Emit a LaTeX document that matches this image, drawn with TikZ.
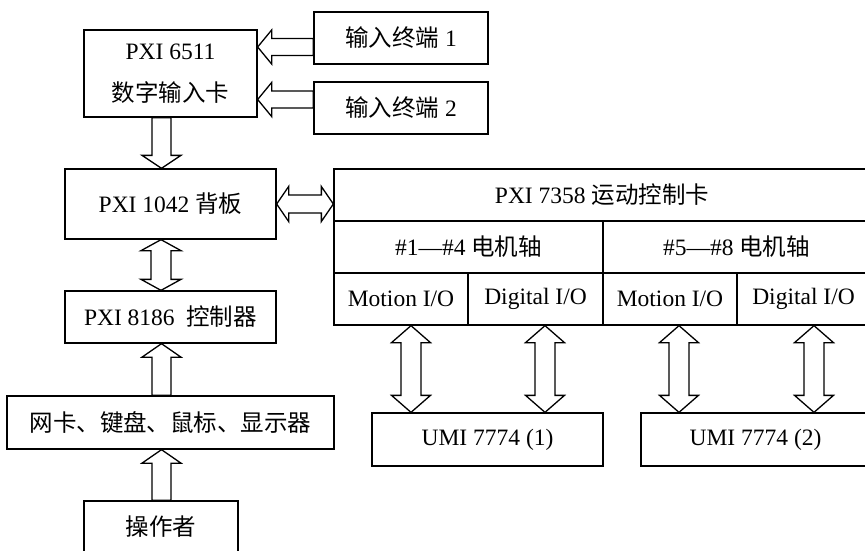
\documentclass[tikz,border=0pt]{standalone}
\usepackage{fontspec}
\setmainfont{Liberation Serif}
\newfontfamily\cjk{Noto Sans CJK SC}
\usetikzlibrary{calc}
\tikzset{
  box/.style={draw, line width=1.3pt, inner sep=0pt, minimum height=52pt,
    font=\fontsize{23.5}{28}\selectfont, align=center},
  fat/.style={draw, fill=white, line width=1.3pt, line join=miter},
}
% single hollow arrow: #1 tail, #2 tip, #3 half shaft, #4 half head, #5 head length
\newcommand\fatone[5]{%
  \coordinate (fH) at ($(#2)!#5!(#1)$);
  \draw[fat] ($(#1)!#3!90:(#2)$) -- ($(fH)!#3!90:(#2)$) -- ($(fH)!#4!90:(#2)$)
    -- (#2) -- ($(fH)!#4!-90:(#2)$) -- ($(fH)!#3!-90:(#2)$)
    -- ($(#1)!#3!-90:(#2)$) -- cycle;}
% double hollow arrow between tips #1 and #2
\newcommand\fattwo[5]{%
  \coordinate (fA) at ($(#1)!#5!(#2)$);
  \coordinate (fB) at ($(#2)!#5!(#1)$);
  \draw[fat] (#1) -- ($(fA)!#4!90:(#2)$) -- ($(fA)!#3!90:(#2)$)
    -- ($(fB)!#3!-90:(#1)$) -- ($(fB)!#4!-90:(#1)$) -- (#2)
    -- ($(fB)!#4!90:(#1)$) -- ($(fB)!#3!90:(#1)$)
    -- ($(fA)!#3!-90:(#2)$) -- ($(fA)!#4!-90:(#2)$) -- cycle;}
\begin{document}
\begin{tikzpicture}[x=1pt,y=-1pt]
\useasboundingbox (0,0) rectangle (865,550);
\fill[white] (0,0) rectangle (865,550);
\clip (0,0) rectangle (865,550);

% left column
\node[box, minimum width=173pt, minimum height=87pt,
      font=\fontsize{23.5}{42}\selectfont] (n6511) at (170.5,73.5)
      {PXI 6511\\{\cjk 数字输入卡}};
\node[box, minimum width=174pt] (in1) at (401,38) {{\cjk 输入终端} 1};
\node[box, minimum width=174pt] (in2) at (401,108) {{\cjk 输入终端} 2};
\node[box, minimum width=211pt, minimum height=70pt] (n1042) at (170.5,204)
      {PXI 1042 {\cjk 背板}};
\node[box, minimum width=211pt] (n8186) at (170.5,317)
      {PXI 8186\ \ {\cjk 控制器}};
\node[box, minimum width=327pt, minimum height=53pt] (net) at (170.5,422.5)
      {{\cjk 网卡、键盘、鼠标、显示器}};
\node[box, minimum width=154pt] (op) at (161,527) {{\cjk 操作者}};

% PXI 7358 card
\node[box, minimum width=536pt] (title) at (602,195) {PXI 7358 {\cjk 运动控制卡}};
\node[box, minimum width=269pt] (ax1) at (468.5,247) {\#1—\#4 {\cjk 电机轴}};
\node[box, minimum width=267pt] (ax2) at (736.5,247) {\#5—\#8 {\cjk 电机轴}};
\node[box, minimum width=134pt] (m1) at (401,299) {Motion I/O};
\node[box, minimum width=135pt] (d1) at (535.5,299) {Digital I/O};
\node[box, minimum width=134pt] (m2) at (670,299) {Motion I/O};
\node[box, minimum width=133pt] (d2) at (803.5,299) {Digital I/O};

\node[box, minimum width=231pt, minimum height=53pt] (u1) at (487.5,439.5) {UMI 7774 (1)};
\node[box, minimum width=229pt, minimum height=53pt] (u2) at (755.5,439.5) {UMI 7774 (2)};

% arrows
\coordinate (a1) at ($(in1.west)+(0,9)$);
\coordinate (b1) at (a1 -| n6511.east);
\fatone{a1}{b1}{8.5pt}{17pt}{14pt}
\coordinate (a2) at ($(in2.west)+(0,-8.5)$);
\coordinate (b2) at (a2 -| n6511.east);
\fatone{a2}{b2}{8.5pt}{17pt}{14pt}

\coordinate (a3) at ($(n6511.south)+(-9,0)$);
\coordinate (b3) at (a3 |- n1042.north);
\fatone{a3}{b3}{9.5pt}{19.5pt}{13pt}

\coordinate (a4) at ($(n1042.south)+(-9.5,0)$);
\coordinate (b4) at (a4 |- n8186.north);
\fattwo{a4}{b4}{10pt}{20pt}{11pt}

\coordinate (a5) at ($(net.north)+(-9,0)$);
\coordinate (b5) at (a5 |- n8186.south);
\fatone{a5}{b5}{9.5pt}{19.5pt}{13.5pt}

\coordinate (a6) at ($(op.north)+(0.5,0)$);
\coordinate (b6) at (a6 |- net.south);
\fatone{a6}{b6}{9.5pt}{19.5pt}{13.5pt}

\coordinate (b7) at (n1042.east -| title.west);
\fattwo{n1042.east}{b7}{9pt}{17.5pt}{12pt}

\coordinate (c1) at ($(m1.south)+(10,0)$);
\coordinate (e1) at (c1 |- u1.north);
\fattwo{c1}{e1}{10pt}{19.5pt}{17pt}
\coordinate (c2) at ($(d1.south)+(9.5,0)$);
\coordinate (e2) at (c2 |- u1.north);
\fattwo{c2}{e2}{10pt}{19.5pt}{17pt}
\coordinate (c3) at ($(m2.south)+(9,0)$);
\coordinate (e3) at (c3 |- u2.north);
\fattwo{c3}{e3}{10pt}{19.5pt}{17pt}
\coordinate (c4) at ($(d2.south)+(10.5,0)$);
\coordinate (e4) at (c4 |- u2.north);
\fattwo{c4}{e4}{10pt}{19.5pt}{17pt}
\end{tikzpicture}
\end{document}
